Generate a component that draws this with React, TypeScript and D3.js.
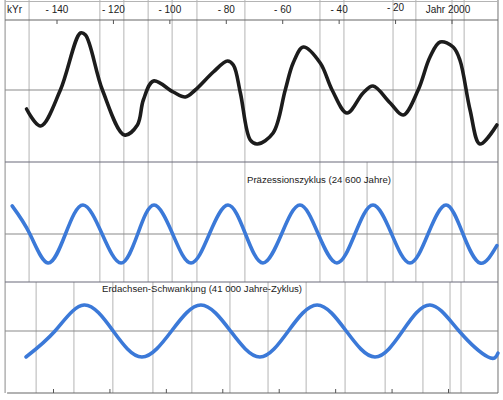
import React from "react";
import * as d3 from "d3";

// ---- Data (kyr relative to year 2000) ----
const tickYears = [-140, -120, -100, -80, -60, -40, -20, 0];
const tickLabels = ["- 140", "- 120", "- 100", "- 80", "- 60", "- 40", "- 20", "Jahr 2000"];

// Temperature-like curve (top panel), arbitrary units
const climateKyr = [-150.8, -145.8, -138.8, -131.7, -129.9, -123.9, -116.1, -111.5, -109.4, -105.8, -98.8, -94.5, -91.0, -84.6, -79.6, -77.5, -75.0, -71.5, -69.0, -63.4, -59.1, -56.3, -52.7, -46.7, -42.5, -37.2, -31.5, -28.0, -21.9, -17.3, -12.0, -7.8, -4.2, 0.4, 2.8, 6.4, 9.9, 15.9];
const climateVal = [-1.9, -3.6, 0.0, 5.7, 5.5, 0.0, -4.5, -3.5, -1.0, 0.9, -0.2, -0.7, 0.0, 1.8, 2.9, 2.5, -0.3, -5.0, -5.4, -4.3, 0.0, 2.7, 4.3, 2.7, 0.0, -2.3, -0.3, 0.4, -1.3, -2.5, 0.0, 3.3, 4.8, 4.3, 3.0, -2.0, -5.4, -3.5];

// Precession cycle (24 600 years), read extrema and crossings
const precKyr = [-155.9, -149.6, -143.2, -137.0, -130.8, -124.0, -117.3, -111.4, -105.6, -99.0, -92.5, -86.0, -79.4, -73.2, -67.0, -60.4, -53.9, -47.4, -40.8, -34.4, -28.0, -21.4, -14.9, -8.5, -2.1, 3.9, 9.9, 15.9];
const precVal = [0.97, 0, -1, 0, 1, 0, -1, 0, 1, 0, -1, 0, 1, 0, -1, 0, 1, 0, -1, 0, 1, 0, -1, 0, 1, 0, -1, -0.4];

// Obliquity cycle (41 000 years)
const oblKyr = [-151.0, -140.7, -130.4, -120.1, -109.9, -99.4, -89.0, -78.5, -68.1, -58.0, -47.8, -37.5, -27.3, -17.5, -7.8, 2.5, 12.8, 16.3];
const oblVal = [-1, 0, 1, 0, -1, 0, 1, 0, -1, 0, 1, 0, -1, 0, 1, 0, -1, -0.85];

// Paper grid (kyr positions)
const gridTop = [-149.9, -124.8, -116.3, -107.7, -99.2, -90.4, -73.4, -46.8, -38.3, -20.9, -12.8, 0, 4.3];
const gridMid = [-30.1];
const gridBottom = [-147.4, -134.0, -120.2, -106.0, -92.2, -78.7, -65.2, -51.7, -37.9, -23.7, -10.3, -0.7, 3.2];
const borderKyr = [-158.4, 16.3];

const W = 503;
const H = 400;
const FONT = "'Liberation Sans', Arial, Helvetica, sans-serif";

export default function App() {
  const x = d3.scaleLinear().domain([-140, 0]).range([57, 452]);
  const y1 = d3.scaleLinear().domain([-6, 6]).range([150, 30]);
  const y2 = d3.scaleLinear().domain([-1, 1]).range([263, 205]);
  const y3 = d3.scaleLinear().domain([-1, 1]).range([357, 305]);

  const left = x(borderKyr[0]);
  const right = x(borderKyr[1]);

  const mk = (xs: number[], vs: number[], ys: d3.ScaleLinear<number, number>, curve: d3.CurveFactory) =>
    d3
      .line<number>()
      .x((_, i) => x(xs[i]))
      .y((d) => ys(d))
      .curve(curve)(vs) || "";

  const climatePath = mk(climateKyr, climateVal, y1, d3.curveCatmullRom.alpha(0.5));
  const precPath = mk(precKyr, precVal, y2, d3.curveNatural);
  const oblPath = mk(oblKyr, oblVal, y3, d3.curveNatural);

  const gridColor = "#b4b4b4";
  const lineColor = "#8a8a8a";
  const blue = "#3b79d8";

  return (
    <svg
      width={W}
      height={H}
      style={{ position: "absolute", left: 0, top: 0, background: "#fff" }}
      fontFamily={FONT}
    >
      <rect x={0} y={0} width={W} height={H} fill="#ffffff" />
      {/* vertical paper grid: panels 1 & 2 */}
      {gridTop.map((k) => (
        <line key={"gt" + k} x1={x(k)} x2={x(k)} y1={0} y2={282} stroke={gridColor} strokeWidth={1} />
      ))}
      {gridMid.map((k) => (
        <line key={"gm" + k} x1={x(k)} x2={x(k)} y1={162} y2={282} stroke={gridColor} strokeWidth={1} />
      ))}
      {gridBottom.map((k) => (
        <line key={"gb" + k} x1={x(k)} x2={x(k)} y1={282} y2={393} stroke={gridColor} strokeWidth={1} />
      ))}
      {/* borders */}
      <line x1={left} x2={left} y1={0} y2={393} stroke={lineColor} strokeWidth={1} />
      <line x1={right} x2={right} y1={0} y2={393} stroke={lineColor} strokeWidth={1.2} />

      {/* horizontal lines */}
      <line x1={left} x2={right} y1={1.5} y2={1.5} stroke={gridColor} strokeWidth={1} />
      <line x1={left} x2={right} y1={20} y2={20} stroke="#666" strokeWidth={1.2} />
      <line x1={left} x2={right} y1={y1(0)} y2={y1(0)} stroke={lineColor} strokeWidth={1.2} />
      <line x1={left} x2={right} y1={162} y2={162} stroke="#6a6a7a" strokeWidth={1.2} />
      <line x1={left} x2={right} y1={y2(0)} y2={y2(0)} stroke={lineColor} strokeWidth={1.2} />
      <line x1={left} x2={right} y1={282} y2={282} stroke="#6a6a7a" strokeWidth={1.2} />
      <line x1={left} x2={right} y1={y3(0)} y2={y3(0)} stroke={lineColor} strokeWidth={1.2} />
      <line x1={left + 2} x2={right} y1={393} y2={393} stroke="#666" strokeWidth={1.2} />

      {/* top axis ticks + labels */}
      {tickYears.map((t, i) => (
        <g key={"tt" + t}>
          <line x1={x(t)} x2={x(t)} y1={20} y2={24} stroke="#555" strokeWidth={1} />
          <text x={x(t) - (i === 7 ? 4 : 0)} y={i === 6 ? 11 : 13} textAnchor="middle" fontSize={10} fill="#222">
            {tickLabels[i]}
          </text>
        </g>
      ))}
      <text x={7} y={13} fontSize={10} fill="#222">
        kYr
      </text>

      {/* bottom axis ticks */}
      {tickYears.map((t) => (
        <line key={"bt" + t} x1={x(t) - 3.5} x2={x(t) - 3.5} y1={389} y2={393} stroke="#555" strokeWidth={1} />
      ))}

      {/* curves */}
      <path d={climatePath} fill="none" stroke="#1c1c1c" strokeWidth={3.6} strokeLinecap="round" strokeLinejoin="round" />
      <path d={precPath} fill="none" stroke={blue} strokeWidth={3.6} strokeLinecap="round" />
      <path d={oblPath} fill="none" stroke={blue} strokeWidth={3.6} strokeLinecap="round" />

      {/* labels */}
      <text x={247} y={183} fontSize={9.6} fill="#222">
        Präzessionszyklus (24 600 Jahre)
      </text>
      <text x={102} y={292} fontSize={9.6} fill="#222">
        Erdachsen-Schwankung (41 000 Jahre-Zyklus)
      </text>
    </svg>
  );
}
